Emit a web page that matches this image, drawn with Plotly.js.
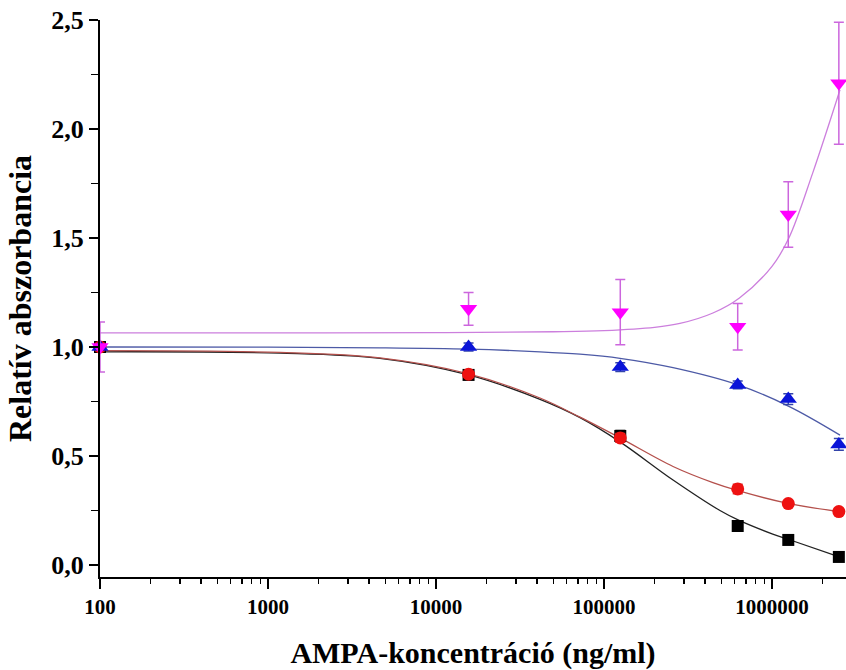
<!DOCTYPE html>
<html>
<head>
<meta charset="utf-8">
<script src="https://cdn.plot.ly/plotly-3.0.1.min.js"></script>
<style>html,body{margin:0;padding:0;background:#fff;}#chart{width:846px;height:670px;}</style>
</head>
<body>
<div id="chart"></div>
<script>
// Measured data (concentration in ng/ml, relative absorbance)
const conc = [100, 15625, 125000, 625000, 1250000, 2500000];

const blackY = [1.0, 0.872, 0.592, 0.179, 0.115, 0.037];
const blackErr = [0.01, 0.012, 0.025, 0.012, 0.01, 0.01];
const redY = [1.0, 0.875, 0.583, 0.349, 0.282, 0.245];
const redErr = [0.01, 0.012, 0.02, 0.022, 0.012, 0.014];
const blueY = [1.0, 1.0, 0.908, 0.826, 0.761, 0.553];
const blueErr = [0.01, 0.018, 0.02, 0.018, 0.025, 0.027];
const magentaY = [1.0, 1.175, 1.16, 1.093, 1.608, 2.21];
const magentaErr = [0.115, 0.075, 0.15, 0.107, 0.15, 0.28];

// Fitted curves
const blackCurveX = [100, 1180, 4640, 15625, 41600, 72000, 124500, 257600, 490000, 628000, 1010000, 1260000, 2540000];
const blackCurveY = [0.978, 0.972, 0.948, 0.872, 0.760, 0.676, 0.565, 0.390, 0.250, 0.207, 0.142, 0.117, 0.036];
const redCurveX = [100, 1180, 4640, 15625, 41600, 72000, 124500, 257600, 445000, 628000, 1260000, 2540000];
const redCurveY = [0.983, 0.975, 0.950, 0.877, 0.766, 0.678, 0.583, 0.452, 0.378, 0.341, 0.282, 0.245];
const blueCurveX = [100, 1000, 4640, 15625, 41600, 72000, 124500, 257600, 628000, 1260000, 2540000];
const blueCurveY = [1.0, 0.999, 0.996, 0.990, 0.978, 0.967, 0.948, 0.905, 0.826, 0.728, 0.596];
const magentaCurveX = [100, 1000, 10000, 50000, 100000, 200000, 283000, 445000, 640000, 1000000, 1260000, 1750000, 2540000];
const magentaCurveY = [1.065, 1.065, 1.066, 1.070, 1.075, 1.090, 1.108, 1.156, 1.225, 1.370, 1.500, 1.800, 2.180];

const yTickVals = [0, 0.5, 1.0, 1.5, 2.0, 2.5];
const yTickText = ['0,0', '0,5', '1,0', '1,5', '2,0', '2,5'];
const xTickVals = [100, 1000, 10000, 100000, 1000000];
const xTickText = ['100', '1000', '10000', '100000', '1000000'];
const xMinorVals = [200,300,400,500,600,700,800,900,2000,3000,4000,5000,6000,7000,8000,9000,
  20000,30000,40000,50000,60000,70000,80000,90000,200000,300000,400000,500000,600000,700000,800000,900000,2000000];

function curve(x, y, color) {
  return {x: x, y: y, type: 'scatter', mode: 'lines', line: {color: color, width: 1.3, shape: 'spline', smoothing: 1},
    hoverinfo: 'skip', showlegend: false, cliponaxis: true};
}
function pts(y, err, color, errColor, symbol, size) {
  return {x: conc, y: y, type: 'scatter', mode: 'markers',
    marker: {symbol: symbol, size: size, color: color, line: {width: 0}},
    error_y: {type: 'data', array: err, visible: true, color: errColor, thickness: 1.5, width: 5},
    showlegend: false, cliponaxis: false};
}

const data = [
  curve(magentaCurveX, magentaCurveY, '#cc7fdd'),
  curve(blueCurveX, blueCurveY, '#4d5aa6'),
  curve(blackCurveX, blackCurveY, '#222222'),
  curve(redCurveX, redCurveY, '#b4504c'),
  pts(blackY, blackErr, '#000000', '#000000', 'square', 12),
  pts(redY, redErr, '#ee1111', '#d04040', 'circle', 13),
  pts(blueY, blueErr, '#0a14d8', '#3344aa', 'triangle-up', 15),
  pts(magentaY, magentaErr, '#ff00ff', '#cc66dd', 'triangle-down', 15),
  {x: xMinorVals, y: xMinorVals.map(() => null), xaxis: 'x2', yaxis: 'y', type: 'scatter', mode: 'markers', showlegend: false, hoverinfo: 'skip'}
];

const serif = 'Liberation Serif, Times New Roman, serif';
const layout = {
  width: 846, height: 670,
  margin: {l: 100, r: 0, t: 20, b: 93},
  paper_bgcolor: '#fff', plot_bgcolor: '#fff',
  font: {family: serif, color: '#000'},
  xaxis: {
    type: 'log', range: [2, 2 + 746/168],
    tickvals: xTickVals, ticktext: xTickText,
    ticks: 'outside', ticklen: 10, tickwidth: 2, tickcolor: '#000',
    showline: true, linewidth: 2, linecolor: '#000', showgrid: false, zeroline: false,
    tickfont: {family: serif, size: 21, color: '#000', weight: 'bold'},
    title: {text: '<b>AMPA-koncentráció (ng/ml)</b>', font: {family: serif, size: 30, color: '#000'}, standoff: 24}
  },
  xaxis2: {
    type: 'log', range: [2, 2 + 746/168], overlaying: 'x', anchor: 'y',
    tickvals: xMinorVals, showticklabels: false,
    ticks: 'outside', ticklen: 6, tickwidth: 1.5, tickcolor: '#000',
    showline: false, showgrid: false, zeroline: false, side: 'bottom'
  },
  yaxis: {
    range: [-0.055, 2.5],
    tickvals: yTickVals, ticktext: yTickText,
    ticks: 'outside', ticklen: 9, tickwidth: 2, tickcolor: '#000',
    minor: {dtick: 0.25, ticks: 'outside', ticklen: 7, tickwidth: 1.5, tickcolor: '#000', showgrid: false},
    showline: true, linewidth: 2, linecolor: '#000', showgrid: false, zeroline: false,
    tickfont: {family: serif, size: 26, color: '#000', weight: 'bold'},
    title: {text: '<b>Relatív abszorbancia</b>', font: {family: serif, size: 32, color: '#000'}, standoff: 10}
  },
  showlegend: false
};

Plotly.newPlot('chart', data, layout, {staticPlot: true});
</script>
</body>
</html>
